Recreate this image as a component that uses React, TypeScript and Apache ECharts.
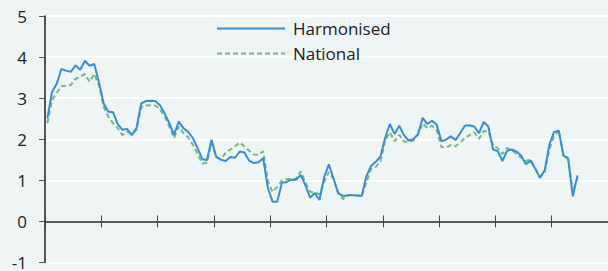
import React, { useEffect, useRef } from "react";
import * as echarts from "echarts";

const years = ["Y1", "Y2", "Y3", "Y4", "Y5", "Y6", "Y7", "Y8", "Y9", "Y10"];
const monthNames = ["Jan", "Feb", "Mar", "Apr", "May", "Jun", "Jul", "Aug", "Sep", "Oct", "Nov", "Dec"];
const categories: string[] = [];
years.forEach((y) => monthNames.forEach((m) => categories.push(`${m} ${y}`)));

const harmonised = [
  2.51, 3.15, 3.35, 3.71, 3.67, 3.64, 3.80, 3.69, 3.91, 3.79,
  3.83, 3.39, 2.87, 2.67, 2.66, 2.37, 2.23, 2.25, 2.10, 2.27,
  2.87, 2.93, 2.94, 2.93, 2.83, 2.63, 2.39, 2.11, 2.43, 2.27,
  2.18, 2.03, 1.79, 1.52, 1.49, 1.99, 1.57, 1.50, 1.47, 1.57,
  1.55, 1.70, 1.68, 1.48, 1.42, 1.44, 1.54, 0.82, 0.48, 0.48,
  0.94, 0.96, 1.02, 1.01, 1.13, 0.88, 0.58, 0.69, 0.52, 1.08,
  1.39, 1.04, 0.69, 0.62, 0.63, 0.64, 0.63, 0.62, 1.10, 1.35,
  1.45, 1.58, 2.03, 2.37, 2.13, 2.33, 2.10, 1.97, 2.00, 2.12,
  2.52, 2.37, 2.45, 2.35, 1.95, 1.99, 2.07, 1.98, 2.15, 2.33,
  2.34, 2.31, 2.15, 2.42, 2.31, 1.75, 1.71, 1.47, 1.72, 1.75,
  1.70, 1.60, 1.39, 1.48, 1.28, 1.06, 1.24, 1.87, 2.18, 2.21,
  1.60, 1.54, 0.61, 1.12,
];

const national = [
  2.39, 2.95, 3.13, 3.29, 3.30, 3.32, 3.47, 3.52, 3.59, 3.40,
  3.59, 3.31, 2.79, 2.55, 2.39, 2.27, 2.10, 2.18, 2.13, 2.23,
  2.78, 2.82, 2.83, 2.82, 2.73, 2.55, 2.31, 2.03, 2.31, 2.15,
  2.05, 1.87, 1.65, 1.41, 1.43, 1.91, 1.56, 1.52, 1.67, 1.75,
  1.83, 1.92, 1.83, 1.72, 1.63, 1.62, 1.71, 0.98, 0.72, 0.84,
  1.00, 1.03, 1.03, 1.04, 1.22, 0.95, 0.72, 0.70, 0.66, 0.96,
  1.20, 1.04, 0.69, 0.54, 0.64, 0.64, 0.63, 0.62, 0.95, 1.28,
  1.33, 1.45, 1.97, 2.17, 1.95, 2.11, 1.95, 1.93, 1.97, 2.12,
  2.38, 2.27, 2.33, 2.22, 1.81, 1.80, 1.86, 1.83, 1.92, 2.03,
  2.10, 2.17, 2.01, 2.20, 2.19, 1.86, 1.78, 1.64, 1.79, 1.73,
  1.65, 1.55, 1.47, 1.51, 1.28, 1.09, 1.20, 1.75, 2.07, 2.21,
  1.63, 1.51, 0.72, 1.08,
];

const FONT = "Open Sans";

export default function App() {
  const ref = useRef<HTMLDivElement>(null);
  useEffect(() => {
    if (!ref.current) return;
    const chart = echarts.init(ref.current, undefined, { renderer: "svg" });
    const baseX = {
      type: "category" as const,
      data: categories,
      boundaryGap: true,
      position: "bottom" as const,
      axisLabel: { show: false },
      splitLine: { show: false },
      z: 5,
    };
    chart.setOption({
      animation: false,
      backgroundColor: "#eff4f5",
      grid: { left: 45, right: 0, top: 16, bottom: 5, containLabel: false },
      legend: {
        orient: "vertical",
        left: 211,
        top: 15,
        itemWidth: 68,
        itemHeight: 14,
        itemGap: 8,
        itemStyle: { opacity: 0 },
        data: ["Harmonised", "National"],
        textStyle: { fontFamily: FONT, fontSize: 17, color: "#222", padding: [0, 0, 0, 3] },
      },
      xAxis: [
        {
          ...baseX,
          axisLine: { onZero: true, onZeroAxisIndex: 0, lineStyle: { color: "#222", width: 1.5 } },
          axisTick: { show: true, interval: 11, length: 6, lineStyle: { color: "#444", width: 1 } },
        },
        {
          ...baseX,
          axisLine: { show: false, onZero: true, onZeroAxisIndex: 0 },
          axisTick: { show: true, inside: true, interval: 11, length: 6, lineStyle: { color: "#444", width: 1 } },
        },
      ],
      yAxis: {
        type: "value",
        min: -1,
        max: 5,
        interval: 1,
        axisLine: { show: true, lineStyle: { color: "#222", width: 1.5 } },
        axisTick: { show: true, length: 6, lineStyle: { color: "#555" } },
        axisLabel: { fontFamily: FONT, fontSize: 17, color: "#222", margin: 18 },
        splitLine: { show: true, lineStyle: { color: "#ffffff", width: 2 } },
      },
      series: [
        {
          name: "Harmonised",
          type: "line",
          xAxisIndex: 0,
          data: harmonised,
          symbol: "none",
          z: 3,
          lineStyle: { color: "#3a8ed2", width: 2 },
          itemStyle: { color: "#3a8ed2" },
        },
        {
          name: "National",
          type: "line",
          xAxisIndex: 1,
          data: national,
          symbol: "none",
          z: 2,
          lineStyle: { color: "#72bb82", width: 2, type: [5, 3] },
          itemStyle: { color: "#72bb82" },
        },
      ],
    });
    return () => chart.dispose();
  }, []);
  return (
    <div
      ref={ref}
      style={{ position: "fixed", left: 0, top: 0, width: 608, height: 271 }}
    />
  );
}
